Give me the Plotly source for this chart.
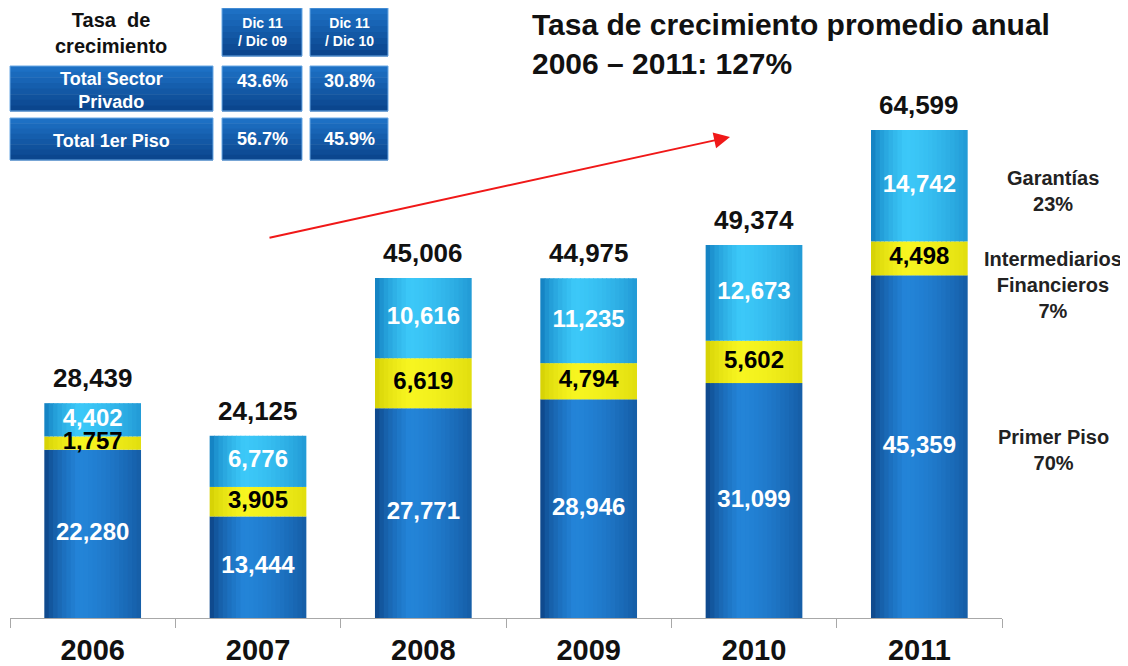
import plotly.graph_objects as go

years = ['2006', '2007', '2008', '2009', '2010', '2011']
primer_piso = [22280, 13444, 27771, 28946, 31099, 45359]
intermediarios = [1757, 3905, 6619, 4794, 5602, 4498]
garantias = [4402, 6776, 10616, 11235, 12673, 14742]
totales = [28439, 24125, 45006, 44975, 49374, 64599]

tabla_cols = ['Dic 11<br>/ Dic 09', 'Dic 11<br>/ Dic 10']
tabla_filas = ['Total Sector<br>Privado', 'Total 1er Piso']
tabla_vals = [['43.6%', '30.8%'], ['56.7%', '45.9%']]

leyenda = ['Garantías<br>23%', 'Intermediarios<br>Financieros<br>7%', 'Primer Piso<br>70%']

FONT = 'Liberation Sans, Arial, sans-serif'
OFF = 8  # page body margin
W, H = 1128 - OFF, 666 - OFF
L, R, T, B = 2, 126, 0, 48
PW, PH = W - L - R, H - T - B


def px(x, y):
    # page pixel position -> paper coords
    x, y = x - OFF, y - OFF
    return (x - L) / PW, (H - B - y) / PH


def mix(c1, c2, f):
    a = [int(c1[i:i + 2], 16) for i in (1, 3, 5)]
    b = [int(c2[i:i + 2], 16) for i in (1, 3, 5)]
    return 'rgb(%d,%d,%d)' % tuple(round(a[k] + (b[k] - a[k]) * f) for k in range(3))


def shade(t):
    # cylinder-like horizontal shading, brightest a bit left of centre
    if t < 0.35:
        return (t / 0.35) ** 0.6
    return 1 - 0.55 * ((t - 0.35) / 0.65) ** 1.6


fig = go.Figure()

BW = 0.585
N = 22
step = BW / N
bases_int = primer_piso
bases_gar = [p + i for p, i in zip(primer_piso, intermediarios)]
segmentos = [
    (primer_piso, [0] * 6, '#0a3c7c', '#2384d8'),
    (intermediarios, bases_int, '#cfcb00', '#f7f520'),
    (garantias, bases_gar, '#0c74b8', '#3cc8f8'),
]
for vals, base, dark, light in segmentos:
    for i in range(N):
        off = -BW / 2 + i * step
        w = min(step * 1.2, BW / 2 - off)
        fig.add_trace(go.Bar(
            x=years, y=vals, base=base, offset=off, width=w,
            marker=dict(color=mix(dark, light, shade((i + 0.5) / N)), line_width=0),
            hoverinfo='skip', showlegend=False))

# segment labels
fig.add_trace(go.Scatter(
    x=years, y=[p / 2 for p in primer_piso], mode='text',
    text=['<b>{:,}</b>'.format(v) for v in primer_piso],
    textfont=dict(family=FONT, size=24, color='white'), showlegend=False, hoverinfo='skip'))
fig.add_trace(go.Scatter(
    x=years, y=[b + v / 2 for b, v in zip(bases_int, intermediarios)], mode='text',
    text=['<b>{:,}</b>'.format(v) for v in intermediarios],
    textfont=dict(family=FONT, size=24, color='black'), showlegend=False, hoverinfo='skip'))
fig.add_trace(go.Scatter(
    x=years, y=[b + v / 2 for b, v in zip(bases_gar, garantias)], mode='text',
    text=['<b>{:,}</b>'.format(v) for v in garantias],
    textfont=dict(family=FONT, size=24, color='white'), showlegend=False, hoverinfo='skip'))

annotations = []
for i, tot in enumerate(totales):
    annotations.append(dict(
        x=i, y=tot, xref='x', yref='y', text='<b>{:,}</b>'.format(tot), showarrow=False,
        yanchor='middle', yshift=25, font=dict(family=FONT, size=26, color='#111')))

# right side labels
for txt, ypx in zip(leyenda, [191, 285, 450]):
    x0, y0 = px(1053, ypx)
    annotations.append(dict(
        x=x0, y=y0, xref='paper', yref='paper', text='<b>%s</b>' % txt, showarrow=False,
        xanchor='center', yanchor='middle', align='center',
        font=dict(family=FONT, size=20, color='#222')))

# title
x0, y0 = px(530, 44)
annotations.append(dict(
    x=x0, y=y0, xref='paper', yref='paper', showarrow=False, xanchor='left', yanchor='middle',
    align='left', text='<b>Tasa de crecimiento promedio anual<br>2006 – 2011: 127%</b>',
    font=dict(family=FONT, size=30, color='#111')))

# red arrow
x0, y0 = px(730, 137)
annotations.append(dict(
    x=x0, y=y0, xref='paper', yref='paper', text='', showarrow=True,
    ax=268 - 730, ay=238 - 137, axref='pixel', ayref='pixel',
    arrowcolor='#f01818', arrowwidth=2, arrowhead=2, arrowsize=1.6, standoff=0))

# growth table
shapes = []


def caja(x1, y1, x2, y2):
    nb = 8
    for k in range(nb):
        ya = y1 + (y2 - y1) * k / nb
        yb = y1 + (y2 - y1) * (k + 1) / nb + 0.5
        a = px(x1, ya)
        b = px(x2, yb)
        shapes.append(dict(type='rect', xref='paper', yref='paper', x0=a[0], y0=a[1],
                           x1=b[0], y1=b[1], fillcolor=mix('#1d70c4', '#0b468e', k / (nb - 1)),
                           line_width=0, layer='above'))
    a = px(x1, y1)
    b = px(x2, y2)
    shapes.append(dict(type='rect', xref='paper', yref='paper', x0=a[0], y0=a[1], x1=b[0], y1=b[1],
                       line=dict(color='#6aa8e4', width=1), fillcolor='rgba(0,0,0,0)', layer='above'))


def texto(x, y, txt, size, color='white'):
    a = px(x, y)
    annotations.append(dict(x=a[0], y=a[1], xref='paper', yref='paper', text='<b>%s</b>' % txt,
                            showarrow=False, xanchor='center', yanchor='middle', align='center',
                            font=dict(family=FONT, size=size, color=color)))


texto(111, 33, 'Tasa  de<br>crecimiento', 20, '#111')
col_x = [(222, 302), (310, 388)]
for (xa, xb), txt in zip(col_x, tabla_cols):
    caja(xa, 8, xb, 56)
    texto((xa + xb) / 2, 32, txt, 14)
fila_y = [(66, 111), (118, 160)]
for (ya, yb), fila, vals in zip(fila_y, tabla_filas, tabla_vals):
    caja(10, ya, 213, yb)
    texto(111, (ya + yb) / 2 + 2, fila, 18)
    for (xa, xb), v in zip(col_x, vals):
        caja(xa, ya, xb, yb)
        texto((xa + xb) / 2, ya + 15 if fila.count('<br>') else (ya + yb) / 2, v, 18)

fig.update_layout(
    width=W, height=H, barmode='overlay', plot_bgcolor='white', paper_bgcolor='white',
    margin=dict(l=L, r=R, t=T, b=B), showlegend=False,
    annotations=annotations, shapes=shapes, font=dict(family=FONT))
fig.update_xaxes(
    type='category', range=[-0.5, 5.5], showline=True, linecolor='#a8a8a8', linewidth=1,
    ticks='outside', tickson='boundaries', ticklen=9, tickcolor='#a8a8a8', showgrid=False,
    tickfont=dict(family=FONT, size=29, color='#111', weight='bold'), ticklabelstandoff=6,
    automargin=False)
fig.update_yaxes(visible=False, range=[0, 80750], automargin=False)

fig.write_html('out.html')
